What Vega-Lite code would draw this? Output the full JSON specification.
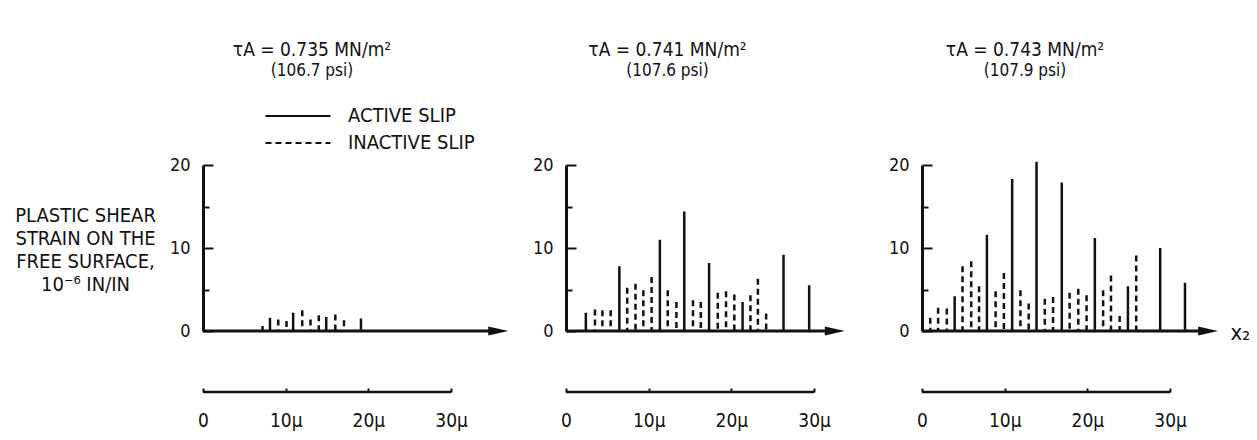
{
  "$schema": "https://vega.github.io/schema/vega-lite/v6.json",
  "autosize": {"type": "none"},
  "padding": {"left": 203, "top": 165, "right": 1054, "bottom": 275},
  "background": "white",
  "spacing": 57,
  "bounds": "flush",
  "datasets": {
    "spikes": [
      {"panel": 1, "pos": 7.2, "h": 0.6, "slip": "ACTIVE SLIP"},
      {"panel": 1, "pos": 8.1, "h": 1.6, "slip": "ACTIVE SLIP"},
      {"panel": 1, "pos": 9.1, "h": 1.4, "slip": "INACTIVE SLIP"},
      {"panel": 1, "pos": 10.1, "h": 1.2, "slip": "INACTIVE SLIP"},
      {"panel": 1, "pos": 10.9, "h": 2.2, "slip": "ACTIVE SLIP"},
      {"panel": 1, "pos": 12.0, "h": 2.5, "slip": "INACTIVE SLIP"},
      {"panel": 1, "pos": 13.0, "h": 1.4, "slip": "INACTIVE SLIP"},
      {"panel": 1, "pos": 14.0, "h": 1.9, "slip": "INACTIVE SLIP"},
      {"panel": 1, "pos": 14.9, "h": 1.7, "slip": "ACTIVE SLIP"},
      {"panel": 1, "pos": 16.0, "h": 2.0, "slip": "INACTIVE SLIP"},
      {"panel": 1, "pos": 17.05, "h": 1.3, "slip": "INACTIVE SLIP"},
      {"panel": 1, "pos": 19.1, "h": 1.5, "slip": "ACTIVE SLIP"},

      {"panel": 2, "pos": 2.4, "h": 2.2, "slip": "ACTIVE SLIP"},
      {"panel": 2, "pos": 3.5, "h": 2.6, "slip": "INACTIVE SLIP"},
      {"panel": 2, "pos": 4.4, "h": 2.5, "slip": "INACTIVE SLIP"},
      {"panel": 2, "pos": 5.4, "h": 2.5, "slip": "INACTIVE SLIP"},
      {"panel": 2, "pos": 6.45, "h": 7.8, "slip": "ACTIVE SLIP"},
      {"panel": 2, "pos": 7.4, "h": 5.2, "slip": "INACTIVE SLIP"},
      {"panel": 2, "pos": 8.4, "h": 5.7, "slip": "INACTIVE SLIP"},
      {"panel": 2, "pos": 9.35, "h": 4.9, "slip": "INACTIVE SLIP"},
      {"panel": 2, "pos": 10.35, "h": 6.5, "slip": "INACTIVE SLIP"},
      {"panel": 2, "pos": 11.35, "h": 11.0, "slip": "ACTIVE SLIP"},
      {"panel": 2, "pos": 12.3, "h": 4.9, "slip": "INACTIVE SLIP"},
      {"panel": 2, "pos": 13.35, "h": 3.5, "slip": "INACTIVE SLIP"},
      {"panel": 2, "pos": 14.3, "h": 14.4, "slip": "ACTIVE SLIP"},
      {"panel": 2, "pos": 15.35, "h": 3.7, "slip": "INACTIVE SLIP"},
      {"panel": 2, "pos": 16.3, "h": 3.5, "slip": "INACTIVE SLIP"},
      {"panel": 2, "pos": 17.3, "h": 8.2, "slip": "ACTIVE SLIP"},
      {"panel": 2, "pos": 18.35, "h": 4.6, "slip": "INACTIVE SLIP"},
      {"panel": 2, "pos": 19.35, "h": 4.8, "slip": "INACTIVE SLIP"},
      {"panel": 2, "pos": 20.35, "h": 4.4, "slip": "INACTIVE SLIP"},
      {"panel": 2, "pos": 21.35, "h": 3.5, "slip": "ACTIVE SLIP"},
      {"panel": 2, "pos": 22.3, "h": 4.3, "slip": "INACTIVE SLIP"},
      {"panel": 2, "pos": 23.2, "h": 6.3, "slip": "INACTIVE SLIP"},
      {"panel": 2, "pos": 24.2, "h": 2.1, "slip": "INACTIVE SLIP"},
      {"panel": 2, "pos": 26.3, "h": 9.2, "slip": "ACTIVE SLIP"},
      {"panel": 2, "pos": 29.4, "h": 5.5, "slip": "ACTIVE SLIP"},

      {"panel": 3, "pos": 1.0, "h": 1.6, "slip": "INACTIVE SLIP"},
      {"panel": 3, "pos": 1.95, "h": 2.8, "slip": "INACTIVE SLIP"},
      {"panel": 3, "pos": 3.0, "h": 2.7, "slip": "INACTIVE SLIP"},
      {"panel": 3, "pos": 3.95, "h": 4.2, "slip": "ACTIVE SLIP"},
      {"panel": 3, "pos": 4.9, "h": 7.8, "slip": "INACTIVE SLIP"},
      {"panel": 3, "pos": 5.95, "h": 8.4, "slip": "INACTIVE SLIP"},
      {"panel": 3, "pos": 6.9, "h": 5.4, "slip": "INACTIVE SLIP"},
      {"panel": 3, "pos": 7.85, "h": 11.6, "slip": "ACTIVE SLIP"},
      {"panel": 3, "pos": 8.9, "h": 4.8, "slip": "INACTIVE SLIP"},
      {"panel": 3, "pos": 9.9, "h": 7.0, "slip": "INACTIVE SLIP"},
      {"panel": 3, "pos": 10.9, "h": 18.3, "slip": "ACTIVE SLIP"},
      {"panel": 3, "pos": 11.9, "h": 4.9, "slip": "INACTIVE SLIP"},
      {"panel": 3, "pos": 12.9, "h": 3.3, "slip": "INACTIVE SLIP"},
      {"panel": 3, "pos": 13.85, "h": 20.4, "slip": "ACTIVE SLIP"},
      {"panel": 3, "pos": 14.85, "h": 3.9, "slip": "INACTIVE SLIP"},
      {"panel": 3, "pos": 15.85, "h": 4.1, "slip": "INACTIVE SLIP"},
      {"panel": 3, "pos": 16.9, "h": 17.9, "slip": "ACTIVE SLIP"},
      {"panel": 3, "pos": 17.85, "h": 4.6, "slip": "INACTIVE SLIP"},
      {"panel": 3, "pos": 18.9, "h": 5.1, "slip": "INACTIVE SLIP"},
      {"panel": 3, "pos": 19.9, "h": 4.3, "slip": "INACTIVE SLIP"},
      {"panel": 3, "pos": 20.9, "h": 11.2, "slip": "ACTIVE SLIP"},
      {"panel": 3, "pos": 21.9, "h": 4.9, "slip": "INACTIVE SLIP"},
      {"panel": 3, "pos": 22.85, "h": 6.7, "slip": "INACTIVE SLIP"},
      {"panel": 3, "pos": 23.9, "h": 1.8, "slip": "INACTIVE SLIP"},
      {"panel": 3, "pos": 24.9, "h": 5.4, "slip": "ACTIVE SLIP"},
      {"panel": 3, "pos": 25.9, "h": 9.1, "slip": "INACTIVE SLIP"},
      {"panel": 3, "pos": 28.8, "h": 10.0, "slip": "ACTIVE SLIP"},
      {"panel": 3, "pos": 31.8, "h": 5.8, "slip": "ACTIVE SLIP"}
    ]
  },
  "resolve": {
    "scale": {"x": "independent", "y": "independent", "strokeDash": "shared"},
    "legend": {"strokeDash": "shared"}
  },
  "config": {
    "view": {"stroke": null},
    "font": "DejaVu Sans Condensed, Liberation Sans Narrow, DejaVu Sans, sans-serif",
    "axis": {
      "grid": false,
      "labelFont": "DejaVu Sans Condensed, Liberation Sans Narrow, DejaVu Sans, sans-serif",
      "labelColor": "#111",
      "labelFontSize": 18,
      "domainColor": "#111",
      "tickColor": "#111",
      "labelOverlap": false,
      "labelFlush": false
    },
    "title": {
      "anchor": "middle",
      "frame": "group",
      "font": "DejaVu Sans Condensed, Liberation Sans Narrow, DejaVu Sans, sans-serif",
      "fontSize": 19,
      "fontWeight": "normal",
      "color": "#111",
      "subtitleFont": "DejaVu Sans Condensed, Liberation Sans Narrow, DejaVu Sans, sans-serif",
      "subtitleFontSize": 17,
      "subtitleColor": "#111",
      "subtitlePadding": 3
    }
  },
  "hconcat": [
    {
      "width": 306,
      "height": 166,
      "title": {"text": "τA = 0.735 MN/m²", "subtitle": "(106.7 psi)", "dx": -44, "offset": 77},
      "layer": [
        {
          "data": {"name": "spikes"},
          "transform": [{"filter": "datum.panel === 1"}],
          "mark": {"type": "rule", "strokeWidth": 2.5, "color": "#111"},
          "encoding": {
            "x": {"field": "pos", "type": "quantitative", "scale": {"domain": [0, 37], "nice": false},
              "axis": {"title": null, "orient": "bottom", "offset": 61, "values": [0, 10, 20, 30],
                "labelExpr": "datum.value === 0 ? '0' : datum.label + 'μ'", "domain": false,
                "tickSize": -4, "tickWidth": 2, "labelPadding": 23, "labelFontSize": 19, "labelBaseline": "top"}},
            "y": {"field": "h", "type": "quantitative", "scale": {"domain": [0, 20], "nice": false},
              "axis": {"title": ["PLASTIC SHEAR", "STRAIN ON THE", "FREE SURFACE,", "10⁻⁶ IN/IN"],
                "titleAngle": 0, "titleAlign": "center", "titleBaseline": "top", "titleX": -118, "titleY": 40,
                "titleFontSize": 20, "titleLineHeight": 23, "titleFontWeight": "normal",
                "titleFont": "DejaVu Sans Condensed, Liberation Sans Narrow, DejaVu Sans, sans-serif", "titleColor": "#111",
                "values": [0, 5, 10, 15, 20], "labelExpr": "datum.value % 10 === 0 ? datum.label : ''",
                "tickSize": {"condition": {"test": "datum.value % 10 === 0", "value": -10}, "value": -6},
                "tickWidth": 2, "domainWidth": 3, "labelPadding": 23}},
            "y2": {"datum": 0},
            "strokeDash": {"field": "slip", "type": "nominal",
              "scale": {"domain": ["ACTIVE SLIP", "INACTIVE SLIP"], "range": [[1, 0], [6, 4]]},
              "legend": {"title": null, "orient": "none", "legendX": 83, "legendY": -61,
                "symbolType": "M-3,0H3", "symbolSize": 470, "symbolStrokeWidth": 2, "symbolStrokeColor": "#111",
                "labelFontSize": 20, "labelColor": "#111", "labelOffset": 38, "rowPadding": 5,
                "labelFont": "DejaVu Sans Condensed, Liberation Sans Narrow, DejaVu Sans, sans-serif"}}
          }
        },
        {"data": {"values": [{}]}, "mark": {"type": "rule", "strokeWidth": 3, "color": "#111"},
          "encoding": {"x": {"datum": 0}, "x2": {"datum": 35.7}, "y": {"datum": 0}}},
        {"data": {"values": [{}]}, "mark": {"type": "point", "shape": "M-1,-0.45L1,0L-1,0.45Z", "size": 400, "filled": true, "color": "#111", "opacity": 1},
          "encoding": {"x": {"datum": 35.7}, "y": {"datum": 0}}},
        {"data": {"values": [{}]}, "mark": {"type": "rule", "strokeWidth": 2.5, "color": "#111"},
          "encoding": {"x": {"datum": 0}, "x2": {"datum": 30}, "y": {"datum": -7.35}}}
      ]
    },
    {
      "width": 299,
      "height": 166,
      "title": {"text": "τA = 0.741 MN/m²", "subtitle": "(107.6 psi)", "dx": -48, "offset": 77},
      "layer": [
        {
          "data": {"name": "spikes"},
          "transform": [{"filter": "datum.panel === 2"}],
          "mark": {"type": "rule", "strokeWidth": 2.5, "color": "#111"},
          "encoding": {
            "x": {"field": "pos", "type": "quantitative", "scale": {"domain": [0, 36.15], "nice": false},
              "axis": {"title": null, "orient": "bottom", "offset": 61, "values": [0, 10, 20, 30],
                "labelExpr": "datum.value === 0 ? '0' : datum.label + 'μ'", "domain": false,
                "tickSize": -4, "tickWidth": 2, "labelPadding": 23, "labelFontSize": 19, "labelBaseline": "top"}},
            "y": {"field": "h", "type": "quantitative", "scale": {"domain": [0, 20], "nice": false},
              "axis": {"title": null,
                "values": [0, 5, 10, 15, 20], "labelExpr": "datum.value % 10 === 0 ? datum.label : ''",
                "tickSize": {"condition": {"test": "datum.value % 10 === 0", "value": -10}, "value": -6},
                "tickWidth": 2, "domainWidth": 3, "labelPadding": 23}},
            "y2": {"datum": 0},
            "strokeDash": {"field": "slip", "type": "nominal",
              "scale": {"domain": ["ACTIVE SLIP", "INACTIVE SLIP"], "range": [[1, 0], [6, 4]]},
              "legend": null}
          }
        },
        {"data": {"values": [{}]}, "mark": {"type": "rule", "strokeWidth": 3, "color": "#111"},
          "encoding": {"x": {"datum": 0}, "x2": {"datum": 32.5}, "y": {"datum": 0}}},
        {"data": {"values": [{}]}, "mark": {"type": "point", "shape": "M-1,-0.45L1,0L-1,0.45Z", "size": 400, "filled": true, "color": "#111", "opacity": 1},
          "encoding": {"x": {"datum": 32.5}, "y": {"datum": 0}}},
        {"data": {"values": [{}]}, "mark": {"type": "rule", "strokeWidth": 2.5, "color": "#111"},
          "encoding": {"x": {"datum": 0}, "x2": {"datum": 30}, "y": {"datum": -7.35}}}
      ]
    },
    {
      "width": 306,
      "height": 166,
      "title": {"text": "τA = 0.743 MN/m²", "subtitle": "(107.9 psi)", "dx": -50, "offset": 77},
      "layer": [
        {
          "data": {"name": "spikes"},
          "transform": [{"filter": "datum.panel === 3"}],
          "mark": {"type": "rule", "strokeWidth": 2.5, "color": "#111"},
          "encoding": {
            "x": {"field": "pos", "type": "quantitative", "scale": {"domain": [0, 37], "nice": false},
              "axis": {"title": null, "orient": "bottom", "offset": 61, "values": [0, 10, 20, 30],
                "labelExpr": "datum.value === 0 ? '0' : datum.label + 'μ'", "domain": false,
                "tickSize": -4, "tickWidth": 2, "labelPadding": 23, "labelFontSize": 19, "labelBaseline": "top"}},
            "y": {"field": "h", "type": "quantitative", "scale": {"domain": [0, 20], "nice": false},
              "axis": {"title": null,
                "values": [0, 5, 10, 15, 20], "labelExpr": "datum.value % 10 === 0 ? datum.label : ''",
                "tickSize": {"condition": {"test": "datum.value % 10 === 0", "value": -10}, "value": -6},
                "tickWidth": 2, "domainWidth": 3, "labelPadding": 23}},
            "y2": {"datum": 0},
            "strokeDash": {"field": "slip", "type": "nominal",
              "scale": {"domain": ["ACTIVE SLIP", "INACTIVE SLIP"], "range": [[1, 0], [6, 4]]},
              "legend": null}
          }
        },
        {"data": {"values": [{}]}, "mark": {"type": "rule", "strokeWidth": 3, "color": "#111"},
          "encoding": {"x": {"datum": 0}, "x2": {"datum": 34.6}, "y": {"datum": 0}}},
        {"data": {"values": [{}]}, "mark": {"type": "point", "shape": "M-1,-0.45L1,0L-1,0.45Z", "size": 400, "filled": true, "color": "#111", "opacity": 1},
          "encoding": {"x": {"datum": 34.6}, "y": {"datum": 0}}},
        {"data": {"values": [{}]}, "mark": {"type": "rule", "strokeWidth": 2.5, "color": "#111"},
          "encoding": {"x": {"datum": 0}, "x2": {"datum": 30}, "y": {"datum": -7.35}}},
        {"data": {"values": [{}]}, "mark": {"type": "text", "align": "left", "baseline": "middle", "fontSize": 22, "color": "#111",
            "font": "DejaVu Sans Condensed, Liberation Sans Narrow, DejaVu Sans, sans-serif"},
          "encoding": {"x": {"datum": 37.3}, "y": {"datum": -0.3}, "text": {"value": "x₂"}}}
      ]
    }
  ]
}
